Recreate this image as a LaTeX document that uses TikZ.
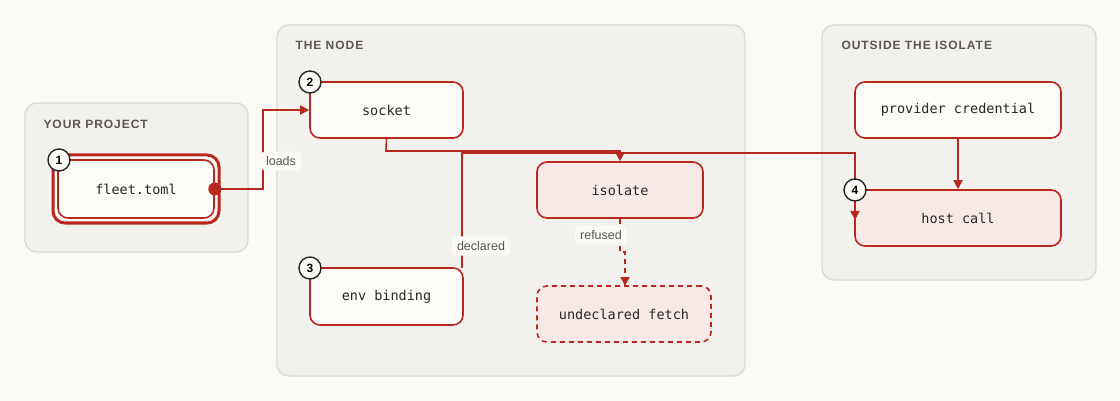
\documentclass[tikz,border=0pt]{standalone}
\usepackage{fontspec}
\setmainfont{Liberation Sans}
\newfontfamily\monof{DejaVu Sans Mono}
\usetikzlibrary{arrows.meta}
\definecolor{pg}{HTML}{FAF9F6}
\definecolor{grp}{HTML}{F2F1ED}
\definecolor{grpl}{HTML}{DCDAD5}
\definecolor{rd}{HTML}{B8281F}
\definecolor{pk}{HTML}{F8E9E7}
\definecolor{nd}{HTML}{FCFBF8}
\definecolor{tx}{HTML}{5A5753}
\begin{document}
\begin{tikzpicture}[x=1pt,y=-1pt,
 grp/.style={draw=grpl,fill=grp,line width=1.4pt,rounded corners=12pt},
 ttl/.style={anchor=west,text=tx,font=\bfseries\fontsize{12}{14}\selectfont\addfontfeature{LetterSpace=8}},
 box/.style={draw=rd,line width=1.6pt,rounded corners=10pt,fill=nd,font=\monof\fontsize{13.5}{16}\selectfont,text=black!85},
 pkbox/.style={box,fill=pk},
 badge/.style={circle,draw=black!85,fill=nd,line width=1.4pt,minimum size=22pt,inner sep=0pt,font=\bfseries\fontsize{12}{14}\selectfont},
 lbl/.style={fill=pg,rounded corners=4pt,text=tx,font=\fontsize{12.5}{14}\selectfont,inner sep=5pt},
 con/.style={draw=rd,line width=1.6pt},
 arr/.style={con,-{Triangle[length=9pt,width=9pt]}}]
\fill[pg] (0,0) rectangle (1120,401);
\draw[grp] (25,103) rectangle (248,252);
\draw[grp] (277,25) rectangle (745,376);
\draw[grp] (822,25) rectangle (1096,280);
\node[ttl] at (40,124) {YOUR PROJECT};
\node[ttl] at (292,45) {THE NODE};
\node[ttl] at (838,45) {OUTSIDE THE ISOLATE};
\draw[draw=rd,line width=3pt,rounded corners=12pt,fill=nd] (53,155) rectangle (219,223);
\node[box,minimum width=156pt,minimum height=58pt] (fleet) at (136,189) {fleet.toml};
\node[box,minimum width=153pt,minimum height=56pt] (socket) at (386.5,110) {socket};
\node[box,minimum width=153pt,minimum height=57pt] (env) at (386.5,296.5) {env binding};
\node[pkbox,minimum width=166pt,minimum height=56pt] (iso) at (620,190) {isolate};
\node[pkbox,dashed,dash pattern=on 5pt off 4pt,minimum width=174pt,minimum height=56pt] (und) at (624,314) {undeclared fetch};
\node[box,minimum width=206pt,minimum height=56pt] (prov) at (958,110) {provider credential};
\node[pkbox,minimum width=206pt,minimum height=56pt] (host) at (958,218) {host call};
\coordinate (l1) at (263,189);
\coordinate (l2) at (263,110);
\draw[arr] (fleet.east) -- (l1) -- (l2) -- (socket.west);
\fill[rd] (fleet.east) circle (6.5pt);
\node[lbl] at (281,161) {loads};
\coordinate (s1) at (386,151);
\coordinate (s2) at (620,151);
\draw[arr] (socket.south) -- (s1) -- (s2) -- (iso.north);
\coordinate (e0) at (462,268);
\coordinate (e1) at (462,153);
\coordinate (e2) at (855,153);
\coordinate (e3) at (855,220);
\draw[arr] (e0) -- (e1) -- (e2) -- (e3);
\node[lbl] at (481,246) {declared};
\coordinate (r1) at (620,252);
\coordinate (r2) at (625,252);
\coordinate (r3) at (625,286);
\draw[arr,dash pattern=on 5pt off 4pt] (iso.south) -- (r1) -- (r2) -- (r3);
\node[lbl] at (601,235) {refused};
\draw[arr] (prov.south) -- (host.north);
\node[badge] at (59,160) {1};
\node[badge] at (310,82) {2};
\node[badge] at (310,268) {3};
\node[badge] at (855,190) {4};
\end{tikzpicture}
\end{document}
